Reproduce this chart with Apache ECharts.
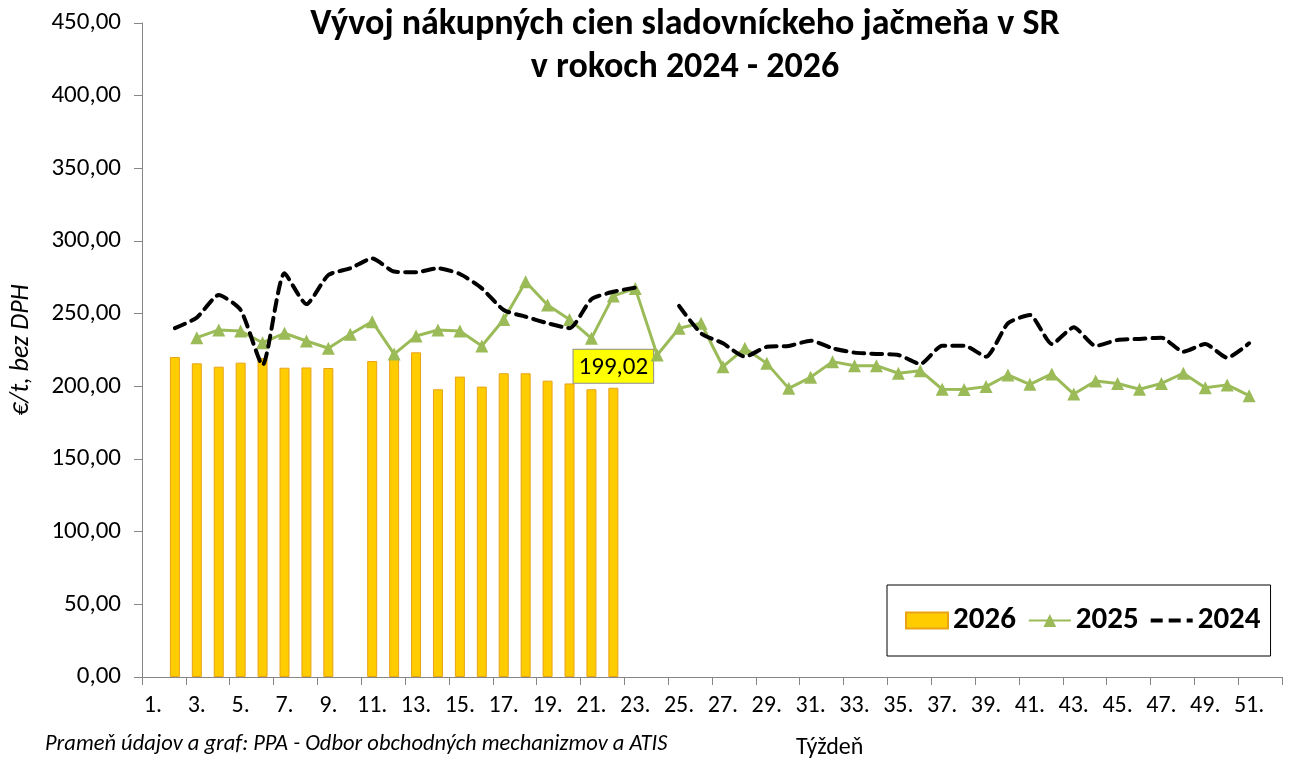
<!DOCTYPE html>
<html>
<head>
<meta charset="utf-8">
<script src="https://cdn.jsdelivr.net/npm/echarts@6/dist/echarts.min.js"></script>
<style>html,body{margin:0;padding:0;background:#fff}#c{width:1292px;height:762px}</style>
</head>
<body>
<div id="c"></div>
<script>
const weeks = Array.from({length: 52}, (_, i) => (i + 1) + '.');
const title = 'Vývoj nákupných cien sladovníckeho jačmeňa v SR\nv rokoch 2024 - 2026';
const yTicks = [0, 50, 100, 150, 200, 250, 300, 350, 400, 450];
// 2026 weekly prices (weeks 1..52), null = no data
const v2026 = [null, 220.2, 215.8, 213.5, 216.3, 219.5, 212.8, 213.0, 212.6, null,
  217.4, 219.0, 223.4, 198.0, 206.7, 199.8, 209.0, 209.0, 203.9, 202.0,
  198.0, 199.02, null, null, null, null, null, null, null, null,
  null, null, null, null, null, null, null, null, null, null,
  null, null, null, null, null, null, null, null, null, null, null, null];
const v2025 = [null, null, 233.5, 238.8, 238.0, 230.0, 236.5, 231.2, 226.2, 235.8,
  244.5, 222.2, 234.6, 238.8, 238.0, 227.8, 246.0, 272.0, 256.0, 246.0,
  233.0, 262.2, 267.4, 221.6, 240.0, 243.4, 213.5, 226.2, 215.8, 198.6,
  206.2, 217.0, 214.2, 214.2, 209.0, 210.8, 198.0, 197.8, 199.8, 207.8,
  201.4, 208.5, 194.7, 203.7, 202.0, 198.0, 202.0, 209.0, 199.0, 201.0, 193.6, null];
const v2024 = [null, 240.0, 247.3, 262.8, 252.5, 214.7, 277.8, 256.6, 276.6, 281.2,
  288.0, 279.0, 278.5, 281.2, 277.3, 267.4, 252.5, 247.9, 243.4, 240.0,
  259.9, 265.1, 267.9, null, 255.3, 236.5, 229.6, 220.4, 227.2, 227.8,
  231.4, 226.2, 223.2, 222.3, 221.6, 215.4, 228.0, 228.0, 220.4, 243.4,
  249.1, 229.1, 240.6, 227.8, 231.9, 232.6, 233.5, 223.8, 229.1, 219.7, 229.6, null];
const labelledWeek = 22;

const font = 'Carlito, Lato, "Liberation Sans", sans-serif';
const fmt = v => v.toFixed(2).replace('.', ',');
const barData = v2026.map((v, i) => (i === labelledWeek - 1 && v != null) ? {
  value: v,
  label: {
    show: true, position: 'top', distance: 5, formatter: p => fmt(p.value),
    backgroundColor: '#FFFF00', borderColor: '#8c8c8c', borderWidth: 1,
    padding: [5, 5, 3, 5], fontFamily: font, fontSize: 25, color: '#000'
  }
} : v);

const chart = echarts.init(document.getElementById('c'));
chart.setOption({
  backgroundColor: '#fff',
  animation: false,
  title: {
    text: title, left: 680, top: -2, textAlign: 'center',
    textStyle: {fontFamily: font, fontWeight: 'bold', fontSize: 36, lineHeight: 43, color: '#000'}
  },
  grid: {left: 140, right: 10, top: 23, bottom: 85, containLabel: false},
  legend: {
    left: 887, top: 585, width: 390, height: 75,
    padding: [20, 10, 20, 18], itemGap: 12,
    borderColor: '#000', borderWidth: 1, itemWidth: 42, itemHeight: 16,
    textStyle: {fontFamily: font, fontWeight: 'bold', fontSize: 31, color: '#000'},
    data: [
      {name: '2026', icon: 'rect'},
      {name: '2025'},
      {name: '2024', icon: 'path://M0,0h12v4h-12z M18,0h12v4h-12z M36,0h6v4h-6z'}
    ]
  },
  xAxis: {
    type: 'category', data: weeks, boundaryGap: true,
    axisLine: {lineStyle: {color: '#868686', width: 1}},
    axisTick: {show: true, interval: 1, length: 8, lineStyle: {color: '#868686'}},
    axisLabel: {interval: 1, fontFamily: font, fontSize: 24, color: '#000', margin: 17}
  },
  yAxis: {
    type: 'value', min: 0, max: 450, interval: 50,
    name: '€/t, bez DPH', nameLocation: 'middle', nameGap: 108, nameRotate: 90,
    nameTextStyle: {fontFamily: font, fontStyle: 'italic', fontSize: 26, color: '#000'},
    splitLine: {show: false},
    axisLine: {show: true, lineStyle: {color: '#868686'}},
    axisTick: {show: true, length: 8, lineStyle: {color: '#868686'}},
    axisLabel: {fontFamily: font, fontSize: 25, color: '#000', margin: 21, formatter: fmt}
  },
  graphic: [
    {type: 'text', left: 45, top: 733, style: {text: 'Prameň údajov a graf: PPA - Odbor obchodných mechanizmov a ATIS',
      fontFamily: font, fontStyle: 'italic', fontSize: 22.5, fill: '#000'}},
    {type: 'text', left: 796, top: 736, style: {text: 'Týždeň', fontFamily: font, fontSize: 24, fill: '#000'}}
  ],
  series: [
    {
      name: '2026', type: 'bar', data: barData, barWidth: 10,
      itemStyle: {color: '#FFCC00', borderColor: '#E8A317', borderWidth: 1},
      z: 1
    },
    {
      name: '2025', type: 'line', data: v2025, connectNulls: false,
      symbol: 'triangle', symbolSize: 13,
      lineStyle: {color: '#9BBB59', width: 3},
      itemStyle: {color: '#9BBB59'}, z: 3
    },
    {
      name: '2024', type: 'line', data: v2024, connectNulls: false, smooth: 0.2,
      symbol: 'none',
      lineStyle: {color: '#000', width: 4, type: [11, 7], cap: 'round'},
      itemStyle: {color: '#000'}, z: 4
    }
  ]
});
</script>
</body>
</html>
